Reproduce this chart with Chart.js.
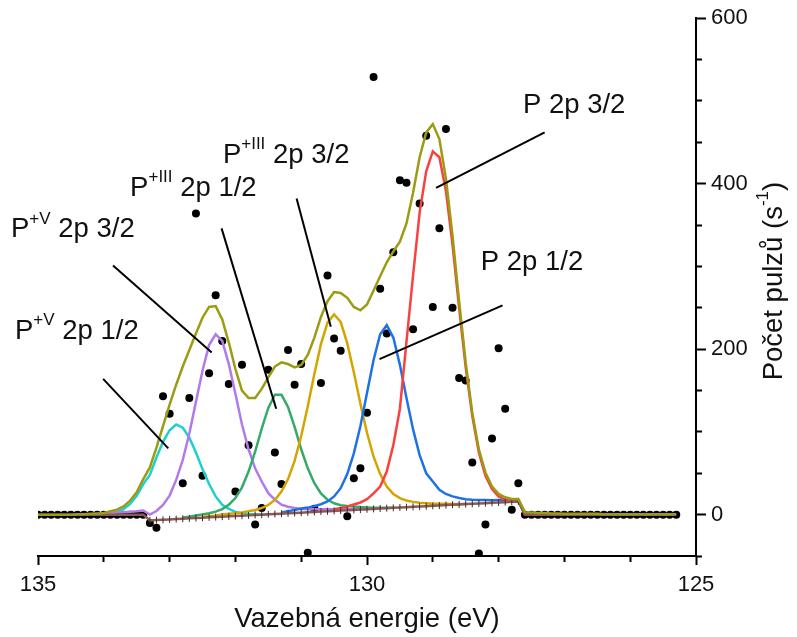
<!DOCTYPE html>
<html lang="cs">
<head>
<meta charset="utf-8">
<title>P 2p - fit spektra</title>
<script src="https://cdn.jsdelivr.net/npm/chart.js@4.4.1/dist/chart.umd.min.js"></script>
<style>
  html, body { margin: 0; padding: 0; background: #fff; }
  #obal { width: 797px; height: 637px; position: relative; }
</style>
</head>
<body>
<div id="obal"><canvas id="graf"></canvas></div>
<script>
// ==========================================
// 1. DATA (vazebna energie v eV, krok 0.1)
// ==========================================
const energie = [
  135.0,134.9,134.8,134.7,134.6,134.5,134.4,134.3,134.2,134.1,
  134.0,133.9,133.8,133.7,133.6,133.5,133.4,133.3,133.2,133.1,
  133.0,132.9,132.8,132.7,132.6,132.5,132.4,132.3,132.2,132.1,
  132.0,131.9,131.8,131.7,131.6,131.5,131.4,131.3,131.2,131.1,
  131.0,130.9,130.8,130.7,130.6,130.5,130.4,130.3,130.2,130.1,
  130.0,129.9,129.8,129.7,129.6,129.5,129.4,129.3,129.2,129.1,
  129.0,128.9,128.8,128.7,128.6,128.5,128.4,128.3,128.2,128.1,
  128.0,127.9,127.8,127.7,127.6,127.5,127.4,127.3,127.2,127.1,
  127.0,126.9,126.8,126.7,126.6,126.5,126.4,126.3,126.2,126.1,
  126.0,125.9,125.8,125.7,125.6,125.5,125.4,125.3
];

// namerene pulzy (s-1), null = bod neni v grafu
const pulzy = [
  0,0,0,0,0,0,0,0,0,0,0,0,0,0,0,0,0,
  -10,-16,143,122,null,38,141,364,47,171,
  265,210,158,28,181,84,-12,8,175,75,
  37,199,157,182,-46,7,159,289,213,198,
  -2,44,56,123,529,273,219,317,404,401,
  224,376,458,251,346,466,250,165,162,63,
  -47,-12,92,201,128,6,38,
  0,0,0,0,0,0,0,0,0,0,0,0,0,0,0,0,0,0,0,0,0,0,0,0
];

// pozadi (cele spektrum)
const pozadi = [
  0,0,0,0,0,0,0,0,0,0,0,0,0,0,0,0,0,
  -7,-6.6,-6.2,-5.8,-5.4,-5,-4.5,-4.1,-3.7,-3.3,
  -2.9,-2.5,-2.1,-1.7,-1.3,-0.9,-0.4,0,0.4,0.8,
  1.2,1.6,2,2.4,2.8,3.3,3.7,4.1,4.5,4.9,
  5.3,5.7,6.1,6.5,6.9,7.4,7.8,8.2,8.6,9,
  9.4,9.8,10.2,10.6,11,11.5,11.9,12.3,12.7,13.1,
  13.5,13.9,14.3,14.7,15.1,15.6,16,
  0,0,0,0,0,0,0,0,0,0,0,0,0,0,0,0,0,0,0,0,0,0,0,0
];

// kumulativni fit (cele spektrum)
const obalka = [
  0,0,0,0,0,0,0.5,0.5,1,1.2,
  2,4,6,10,17,27,43,57,81,107,
  133,157,179,199,219,238,251,252,236,208,
  176,150,141,141,152,166,179,184,182,178,
  181,193,214,239,258,269,268,262,251,247,
  254,271,288,305,318,330,352,389,432,462,
  472,454,406,337,258,184,123,79,51,34,
  25,21,19,19,3,2.5,2,2,1.5,1.5,
  1,1,1,1,1,1,0.5,0.5,0.5,0.5,
  0.5,0.5,0.5,0.5,0.5,0.5,0.5,0.5
];

// jednotlive slozky: index prvniho bodu v poli energie + hodnoty
const pV12od = 8;   // P+V 2p 1/2
const pV12 = [0.1,0.2,0.6,1.4,3.2,6.7,12.9,22.8,37,48,69,88,102,109,105,93,75,55,37,22,12,6.9,3.3,1.7,0.6,0.4,0,0.4];
const pV32od = 7;   // P+V 2p 3/2
const pV32 = [0,0.5,1,1.5,2,2.5,3,3.5,4,5,0,4.4,11.8,23,42,66,98,136,174,205,218,210,182,146,109,79,56,40,26,18,12,9.6,8,6.9,6.6,6.6,6.5,6.5,6.5,6.5,6.5,6.5,6.6,6.5];
const pIII12od = 22; // P+III 2p 1/2
const pIII12 = [-3.5,-2.5,-1.1,0.3,1.7,3.6,6.7,12,20,33,52,76,104,129,145,145,130,106,79,56,38,25.5,18,13.7,11.4,10.3,9.7,9.1,8.7,8.4,8.4,8.3,8.2];
const pIII32od = 25; // P+III 2p 3/2
const pIII32 = [-2.7,-1.8,-0.9,0.3,1,1.8,2.7,4,5.6,8,11.7,17.8,28,43,65,95,131,170,206,232,242,233,207,172,134,99,70,49,34,25,20,17,15.4,14.3,13.7,13.1,13,13,12.9,12.8,12.7];
const p12od = 37;   // P 2p 1/2
const p12 = [2.7,4.1,5.5,7.3,8.5,10.3,12.6,16,22,32,49,74,107,147,187,218,229,214,181,141,103,72,50,40,30,25,22,20,18.5,18,17.7,17.6,17.5,17.6,17.7,18,18.2,2,1.8];
const p32od = 45;   // P 2p 3/2
const p32 = [6.5,7.9,9.8,12.2,14.7,18.7,25.6,34,52,84,128,209,289,365,415,439,432,391,326,250,178,119,75,47,31,22,18.2,16.8,16.4,0];

// popisky: text, kotva textu [E, pulzy], vodici cara [E1, y1, E2, y2]
const popiskyText = [
  [['P'], ['+V', 1], [' 2p 1/2']],
  [['P'], ['+V', 1], [' 2p 3/2']],
  [['P'], ['+III', 1], [' 2p 1/2']],
  [['P'], ['+III', 1], [' 2p 3/2']],
  [['P 2p 3/2']],
  [['P 2p 1/2']]
];
const popiskyKotva = [
  [135.35, 212], [135.41, 335], [133.60, 385], [132.19, 425], [127.63, 485], [128.27, 296]
];
const vodiciCary = [
  [134.01, 164, 133.02, 80],
  [133.86, 301, 132.36, 196],
  [132.21, 346, 131.38, 128],
  [131.07, 382, 130.55, 227],
  [127.30, 462, 128.95, 395],
  [127.94, 253, 129.81, 188]
];

// ==========================================
// 2. POMOCNE FUNKCE
// ==========================================
const PISMO = "'Liberation Sans', Arial, sans-serif";
const body = (od, ys) => ys.map((y, i) => ({ x: energie[od + i], y: y }));

const cara = (data, barva, poradi) => ({
  data: data,
  showLine: true,
  borderColor: barva,
  borderWidth: 2.5,
  pointRadius: 0,
  pointHoverRadius: 0,
  tension: 0,
  fill: false,
  order: poradi
});

// text s hornim indexem
function napis(ctx, kusy, x0, y0, vel, rot, naStred) {
  ctx.save();
  ctx.translate(x0, y0);
  ctx.rotate(rot || 0);
  ctx.textBaseline = 'alphabetic';
  ctx.textAlign = 'left';
  ctx.fillStyle = '#111';
  let sirka = 0;
  kusy.forEach(k => {
    ctx.font = (k[1] ? Math.round(vel * 0.62) : vel) + 'px ' + PISMO;
    sirka += ctx.measureText(k[0]).width;
  });
  let px = naStred ? -sirka / 2 : 0;
  kusy.forEach(k => {
    ctx.font = (k[1] ? Math.round(vel * 0.62) : vel) + 'px ' + PISMO;
    ctx.fillText(k[0], px, k[1] ? -vel * 0.5 : 0);
    px += ctx.measureText(k[0]).width;
  });
  ctx.restore();
}

const popisky = {
  id: 'popisky',
  afterDatasetsDraw(chart) {
    const ctx = chart.ctx;
    const sx = chart.scales.x, sy = chart.scales.y;
    ctx.save();
    ctx.strokeStyle = '#000';
    ctx.lineWidth = 2;
    vodiciCary.forEach(c => {
      ctx.beginPath();
      ctx.moveTo(sx.getPixelForValue(c[0]), sy.getPixelForValue(c[1]));
      ctx.lineTo(sx.getPixelForValue(c[2]), sy.getPixelForValue(c[3]));
      ctx.stroke();
    });
    ctx.restore();
    popiskyText.forEach((t, i) => {
      napis(ctx, t, sx.getPixelForValue(popiskyKotva[i][0]), sy.getPixelForValue(popiskyKotva[i][1]), 27.5);
    });
  },
  afterDraw(chart) {
    // nazev osy y (cte se zdola nahoru)
    const a = chart.chartArea;
    napis(chart.ctx, [['Počet pulzů (s'], ['-1', 1], [')']], a.right + 86, (a.top + a.bottom) / 2 - 6, 27.5, -Math.PI / 2, true);
  }
};

const vedlejsiX = ctx => (ctx.tick && ctx.tick.value % 5 !== 0) ? [5, 40] : [];
const vedlejsiY = ctx => (ctx.tick && ctx.tick.value % 200 !== 0) ? [5, 40] : [];

// ==========================================
// 3. GRAF
// ==========================================
const graf = new Chart(document.getElementById('graf'), {
  type: 'scatter',
  data: {
    datasets: [
      cara(body(0, obalka), '#9B9B14', 0),
      {
        data: body(0, pozadi),
        showLine: true,
        borderColor: '#8C5A52',
        borderWidth: 2.5,
        tension: 0,
        pointStyle: 'line',
        pointRotation: 90,
        pointRadius: c => (c.raw && c.raw.x < 133.35 && c.raw.x > 127.65) ? 3.5 : 0,
        pointBorderColor: '#333',
        pointBorderWidth: 1,
        pointHoverRadius: 0,
        order: 1
      },
      cara(body(p32od, p32), '#F8423F', 2),
      cara(body(p12od, p12), '#1F72E6', 3),
      cara(body(pIII32od, pIII32), '#D6A400', 4),
      cara(body(pIII12od, pIII12), '#36AA6A', 5),
      cara(body(pV32od, pV32), '#B27AE8', 6),
      cara(body(pV12od, pV12), '#1FCFCF', 7),
      {
        data: body(0, pulzy),
        pointRadius: 4,
        pointBackgroundColor: '#000',
        pointBorderWidth: 0,
        pointHoverRadius: 0,
        order: 9
      }
    ]
  },
  options: {
    responsive: true,
    maintainAspectRatio: false,
    animation: false,
    layout: { padding: { left: 38, top: 16, right: 0, bottom: 0 } },
    plugins: { legend: { display: false }, tooltip: { enabled: false } },
    scales: {
      x: {
        type: 'linear',
        reverse: true,
        min: 125, max: 135,
        afterFit: s => { s.height = 81; },
        border: { display: true, color: '#000', width: 2 },
        grid: { drawOnChartArea: false, drawTicks: true, tickLength: 9, tickColor: '#000', tickWidth: 2, tickBorderDash: vedlejsiX },
        ticks: {
          stepSize: 1, autoSkip: false, maxRotation: 0, padding: 7,
          color: '#111', font: { family: PISMO, size: 22 },
          callback: v => (v % 5 === 0 ? v : '')
        },
        title: {
          display: true, text: 'Vazebná energie (eV)', color: '#111',
          font: { family: PISMO, size: 27.5, lineHeight: 1.2 },
          padding: { top: 0, bottom: 1 }
        }
      },
      y: {
        type: 'linear',
        position: 'right',
        min: -50, max: 600,
        afterFit: s => { s.width = 101; },
        border: { display: true, color: '#000', width: 2 },
        grid: { drawOnChartArea: false, drawTicks: true, tickLength: 10, tickColor: '#000', tickWidth: 2, tickBorderDash: vedlejsiY },
        ticks: {
          stepSize: 50, autoSkip: false, padding: 5,
          color: '#111', font: { family: PISMO, size: 22 },
          callback: v => (v % 200 === 0 ? v : '')
        }
      }
    }
  },
  plugins: [popisky]
});
</script>
</body>
</html>
